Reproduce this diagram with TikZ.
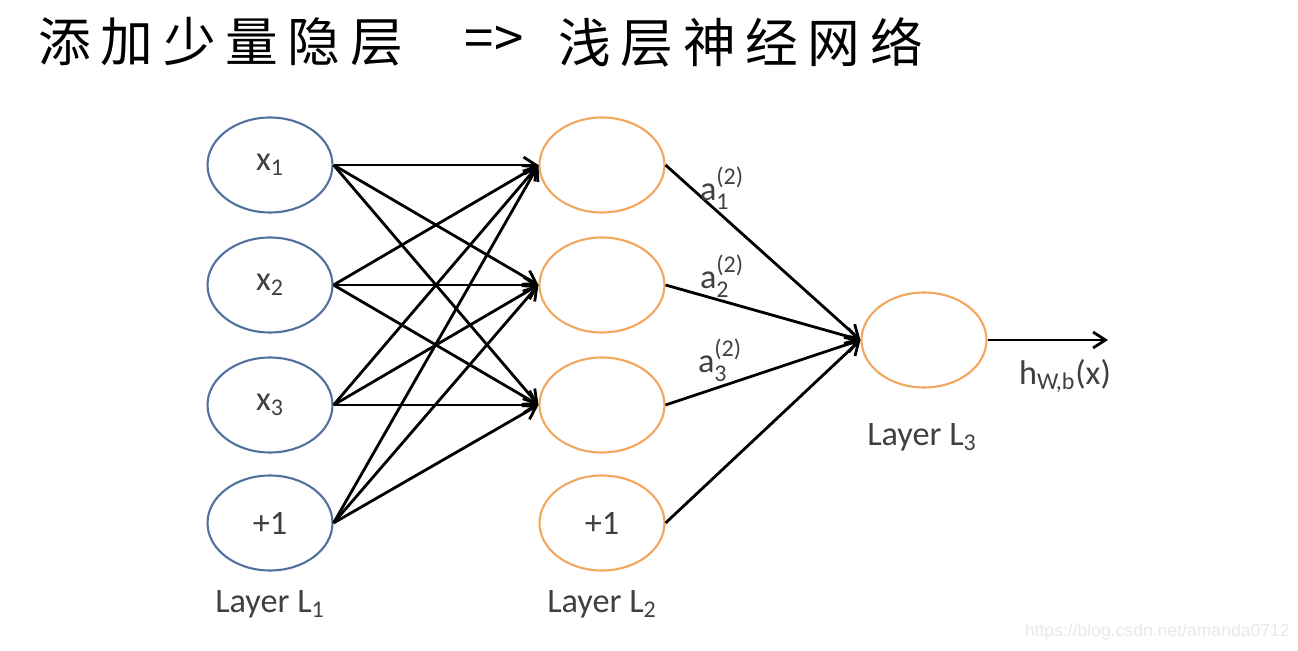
\documentclass[tikz,border=0pt]{standalone}
\usepackage{fontspec}
\usepackage{amsmath}
\setmainfont{Carlito}
\newfontfamily\cjk{Noto Sans CJK SC}
\newfontfamily\wmfont{Liberation Sans}
\usetikzlibrary{shapes.geometric,arrows.meta}
\definecolor{nblue}{HTML}{50709E}
\definecolor{norange}{HTML}{F2A65E}
\definecolor{tgray}{HTML}{404040}
\newcommand\cjkgap{\hspace{5.5pt}}
\begin{document}
\begin{tikzpicture}[x=0.02cm,y=-0.02cm,
 neuron/.style={ellipse, draw, line width=1.2pt, minimum width=2.5cm, minimum height=1.9cm, inner sep=0pt, font=\fontsize{19.5}{22}\selectfont, text=tgray},
 inl/.style={neuron, draw=nblue},
 hid/.style={neuron, draw=norange},
 conn/.style={line width=1.6pt, -{Straight Barb[length=7pt,width=9pt]}},
 lbl/.style={font=\fontsize{19.5}{22}\selectfont, text=tgray, inner sep=0pt},
 title/.style={font=\cjk\fontsize{30}{36}\selectfont, inner sep=0pt},
]
\useasboundingbox (0,0) rectangle (1298,651);
% title
\node[title, anchor=west] (t1) at (38,42) {添\cjkgap 加\cjkgap 少\cjkgap 量\cjkgap 隐\cjkgap 层};
\node[title] (t2) at (494,42) {=>};
\node[title, anchor=west] (t3) at (558,42) {浅\cjkgap 层\cjkgap 神\cjkgap 经\cjkgap 网\cjkgap 络};
% input layer
\node[inl] (i1) at (270,165) {$\text{x}_{\text{1}}$};
\node[inl] (i2) at (270,285) {$\text{x}_{\text{2}}$};
\node[inl] (i3) at (270,405) {$\text{x}_{\text{3}}$};
\node[inl] (i4) at (270,523) {+1};
% hidden layer
\node[hid] (h1) at (602,165) {};
\node[hid] (h2) at (602,285) {};
\node[hid] (h3) at (602,405) {};
\node[hid] (h4) at (602,523) {+1};
% output
\node[hid] (o) at (924,340) {};
\coordinate (out) at (1108,340);
% connections
\foreach \i in {1,...,4}
  \foreach \j in {1,2,3}
    \draw[conn] (i\i.east) -- (h\j.west);
\foreach \j in {1,...,4}
  \draw[conn] (h\j.east) -- (o.west);
\draw[conn] (o.east) -- (out);
% labels
\node[lbl] (a1) at (722,188) {$\text{a}^{\text{(2)}}_{\text{1}}$};
\node[lbl] (a2) at (722,276) {$\text{a}^{\text{(2)}}_{\text{2}}$};
\node[lbl] (a3) at (720,360) {$\text{a}^{\text{(2)}}_{\text{3}}$};
\node[lbl] (hx) at (1065,376) {$\text{h}_{\text{W,b}}\text{(x)}$};
\node[lbl] (l1) at (270,604) {Layer L$_{\text{1}}$};
\node[lbl] (l2) at (602,604) {Layer L$_{\text{2}}$};
\node[lbl] (l3) at (922,437) {Layer L$_{\text{3}}$};
% watermark
\node[font=\wmfont\fontsize{10}{12}\selectfont, text=black!9, anchor=east, inner sep=0pt] (wm) at (1290,632) {https://blog.csdn.net/amanda0712};
\end{tikzpicture}
\end{document}
